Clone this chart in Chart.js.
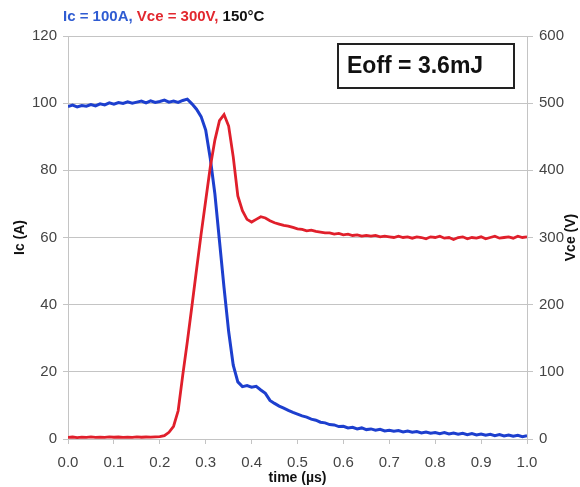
<!DOCTYPE html>
<html>
<head>
<meta charset="utf-8">
<script src="https://cdn.jsdelivr.net/npm/chart.js@4/dist/chart.umd.min.js"></script>
<style>
  html, body { margin: 0; padding: 0; background: #fff; }
  #wrap { width: 580px; height: 487px; }
</style>
</head>
<body>
<div id="wrap"><canvas id="chart" width="580" height="487"></canvas></div>
<script>
const timeTicks = [0, 0.1, 0.2, 0.3, 0.4, 0.5, 0.6, 0.7, 0.8, 0.9, 1.0];

const icTime = [
  0.00, 0.01, 0.02, 0.03, 0.04, 0.05, 0.06, 0.07, 0.08, 0.09,
  0.10, 0.11, 0.12, 0.13, 0.14, 0.15, 0.16, 0.17, 0.18, 0.19,
  0.20, 0.21, 0.22, 0.23, 0.24, 0.25, 0.26, 0.27, 0.28, 0.29,
  0.30, 0.31, 0.32, 0.33, 0.34, 0.35, 0.36, 0.37, 0.38, 0.39,
  0.40, 0.41, 0.42, 0.43, 0.44, 0.45, 0.46, 0.47, 0.48, 0.49,
  0.50, 0.51, 0.52, 0.53, 0.54, 0.55, 0.56, 0.57, 0.58, 0.59,
  0.60, 0.61, 0.62, 0.63, 0.64, 0.65, 0.66, 0.67, 0.68, 0.69,
  0.70, 0.71, 0.72, 0.73, 0.74, 0.75, 0.76, 0.77, 0.78, 0.79,
  0.80, 0.81, 0.82, 0.83, 0.84, 0.85, 0.86, 0.87, 0.88, 0.89,
  0.90, 0.91, 0.92, 0.93, 0.94, 0.95, 0.96, 0.97, 0.98, 0.99, 1.00
];
const icValues = [
  99.0, 99.4, 98.9, 99.3, 99.1, 99.6, 99.2, 99.8, 99.5, 100.1,
  99.7, 100.2, 99.9, 100.4, 100.0, 100.3, 100.6, 100.1, 100.7, 100.2,
  100.5, 100.9, 100.3, 100.6, 100.2, 100.8, 101.2, 99.8, 98.2, 96.0,
  92.0, 83.5, 73.0, 59.0, 45.0, 32.0, 22.0, 17.0, 15.6, 15.9,
  15.4, 15.7, 14.6, 13.6, 11.5, 10.6, 9.8, 9.2, 8.5, 7.9,
  7.4, 6.9, 6.5, 5.9, 5.6, 5.0, 4.8, 4.3, 4.2, 3.7,
  3.8, 3.3, 3.5, 3.0, 3.3, 2.8, 3.0, 2.6, 2.9, 2.4,
  2.6, 2.3, 2.5, 2.1, 2.4, 2.0, 2.2, 1.8, 2.1, 1.7,
  1.9, 1.6, 1.9, 1.5, 1.8, 1.4, 1.7, 1.3, 1.6, 1.2,
  1.5, 1.1, 1.4, 1.0, 1.3, 0.9, 1.2, 0.8, 1.1, 0.7, 1.0
];

const vceTime = icTime;
const vceValues = [
  2.5, 3.0, 2.2, 2.8, 2.4, 3.1, 2.3, 2.9, 2.5, 3.2,
  2.6, 3.0, 2.4, 2.9, 2.5, 3.1, 2.6, 3.0, 2.7, 3.2,
  3.5, 5, 10, 19, 42, 95, 145, 198, 252, 305,
  355, 405, 445, 474, 483, 466, 420, 362, 340, 327,
  323, 327, 331, 329, 325, 322, 320, 318, 317, 315,
  313, 312, 310, 311, 309, 308, 307, 307, 305, 306,
  304, 305, 303, 304, 302, 303, 302, 303, 301, 302,
  301, 300, 302, 300, 301, 299, 301, 300, 298, 301,
  300, 302, 299, 300, 297, 300, 301, 298, 300, 299,
  301, 298, 300, 302, 299, 300, 301, 299, 302, 300, 301
];

const titleParts = [
  { text: "Ic = 100A, ", color: "#2f5cd2" },
  { text: "Vce = 300V, ", color: "#e2282f" },
  { text: "150°C", color: "#111" }
];
const energyLabel = "Eoff = 3.6mJ";
const rightAxisLabel = "Vce (V)";

const fontName = "'Liberation Sans', Arial, sans-serif";
const tickColor = "#444";
const gridColor = "#c4c4c4";

// header text, right axis name and the Eoff box, drawn on the canvas
const decorations = {
  id: "decorations",
  afterDraw(chart) {
    const ctx = chart.ctx;
    const area = chart.chartArea;
    ctx.save();
    ctx.font = "bold 15px " + fontName;
    ctx.textBaseline = "alphabetic";
    let x = 63;
    titleParts.forEach((p) => {
      ctx.fillStyle = p.color;
      ctx.fillText(p.text, x, 21);
      x += ctx.measureText(p.text).width;
    });

    // right axis name reads bottom to top, like the left one
    ctx.save();
    ctx.translate(chart.width - 9, (area.top + area.bottom) / 2);
    ctx.rotate(-Math.PI / 2);
    ctx.font = "bold 14px " + fontName;
    ctx.fillStyle = "#111";
    ctx.textAlign = "center";
    ctx.textBaseline = "middle";
    ctx.fillText(rightAxisLabel, 0, 0);
    ctx.restore();

    const boxLeft = area.right - 189;
    const boxTop = area.top + 8;
    ctx.fillStyle = "#fff";
    ctx.fillRect(boxLeft, boxTop, 176, 44);
    ctx.strokeStyle = "#222";
    ctx.lineWidth = 2;
    ctx.strokeRect(boxLeft, boxTop, 176, 44);
    ctx.font = "bold 23px " + fontName;
    ctx.fillStyle = "#111";
    ctx.textBaseline = "middle";
    ctx.fillText(energyLabel, boxLeft + 9, boxTop + 23);
    ctx.restore();
  }
};

new Chart(document.getElementById("chart"), {
  type: "line",
  data: {
    datasets: [
      {
        label: "Vce",
        data: vceTime.map((t, i) => ({ x: t, y: vceValues[i] })),
        yAxisID: "y1",
        borderColor: "#e01f2b",
        borderWidth: 2.8,
        pointRadius: 0,
        tension: 0
      },
      {
        label: "Ic",
        data: icTime.map((t, i) => ({ x: t, y: icValues[i] })),
        yAxisID: "y",
        borderColor: "#1d3fce",
        borderWidth: 3,
        pointRadius: 0,
        tension: 0
      }
    ]
  },
  options: {
    responsive: false,
    animation: false,
    layout: { padding: { top: 36, left: 0, right: 0, bottom: 0 } },
    plugins: { legend: { display: false }, tooltip: { enabled: false } },
    scales: {
      x: {
        type: "linear",
        min: 0,
        max: 1,
        afterBuildTicks: (scale) => { scale.ticks = timeTicks.map((v) => ({ value: v })); },
        afterFit: (scale) => { scale.height = 48; },
        grid: { drawOnChartArea: false, color: gridColor, tickLength: 5 },
        border: { color: gridColor },
        ticks: {
          padding: 10,
          color: tickColor,
          font: { family: fontName, size: 15 },
          maxRotation: 0,
          callback: (v) => v.toFixed(1)
        },
        title: {
          display: true,
          text: "time (µs)",
          color: "#111",
          font: { family: fontName, size: 14, weight: "bold" },
          padding: 0
        }
      },
      y: {
        position: "left",
        min: 0,
        max: 120,
        afterFit: (scale) => { scale.width = 68; },
        grid: { color: gridColor, tickLength: 5 },
        border: { color: gridColor },
        ticks: {
          stepSize: 20,
          padding: 6,
          color: tickColor,
          font: { family: fontName, size: 15 }
        },
        title: {
          display: true,
          text: "Ic (A)",
          color: "#111",
          font: { family: fontName, size: 14, weight: "bold" },
          padding: { top: 12, bottom: 0 }
        }
      },
      y1: {
        position: "right",
        min: 0,
        max: 600,
        afterFit: (scale) => { scale.width = 53; },
        grid: { drawOnChartArea: false, color: gridColor, tickLength: 6 },
        border: { color: gridColor },
        ticks: {
          stepSize: 100,
          padding: 6,
          color: tickColor,
          font: { family: fontName, size: 15 }
        }
      }
    }
  },
  plugins: [decorations]
});
</script>
</body>
</html>
